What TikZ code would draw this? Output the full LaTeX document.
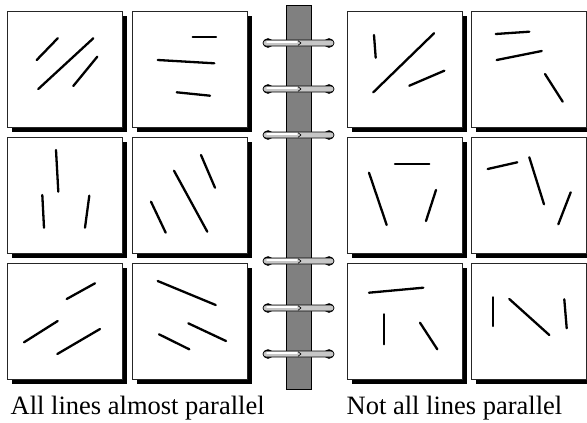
\documentclass[tikz,border=0pt]{standalone}
\usepackage{fontspec}
\setmainfont{Liberation Serif}
\begin{document}
\begin{tikzpicture}[x=1pt,y=-1pt,
  panel/.style={draw=black!85,line width=0.9pt,fill=white},
  shadowbox/.style={fill=black},
  stroke/.style={line width=2.3pt,line cap=round},
  spine/.style={draw=black,line width=0.9pt,fill=black!50},
  rod/.style={draw=black,line width=0.7pt,fill=black!22,rounded corners=3pt},
  knob/.style={fill=black},
  highlight/.style={draw=white,line width=1.5pt,line cap=round},
  notch/.style={draw=black,line width=0.6pt},
  lbl/.style={font=\fontsize{26.5}{30}\selectfont,inner sep=0pt,anchor=base west}]
\useasboundingbox (0,0) rectangle (587,423);
% panels
\foreach \x in {7,132,347,471}
  \foreach \y in {11,137,263}{
    \fill[shadowbox] (\x+5,\y+5) rectangle (\x+120,\y+121);
    \draw[panel] (\x,\y) rectangle (\x+115,\y+116);
  }
% spine
\draw[spine] (286,5) rectangle (311,389);
% rings
\foreach \y in {43,89,135,261,308,354}{
  \fill[knob] (268,\y) ellipse (5 and 4.8);
  \fill[knob] (329,\y) ellipse (5 and 4.8);
  \draw[rod] (263,\y-3) rectangle (334,\y+3);
  \draw[highlight] (267,\y-0.8) -- (297,\y-0.8);
  \draw[notch] (298,\y-2.3) -- (301,\y) -- (298,\y+2.3);
}
% row 1
\draw[stroke] (36.7,60) -- (57.7,38.3);
\draw[stroke] (38.3,89) -- (93.3,38.3);
\draw[stroke] (73.3,86) -- (97.3,56.7);
\draw[stroke] (192.7,36.7) -- (216,36.7);
\draw[stroke] (157.7,60) -- (214.3,63.3);
\draw[stroke] (176.7,92.3) -- (210,95.7);
\draw[stroke] (374,35) -- (375.7,57.7);
\draw[stroke] (373.3,92.3) -- (434,33.3);
\draw[stroke] (409.3,85.7) -- (444.3,70.7);
\draw[stroke] (495.7,34) -- (529.3,31.7);
\draw[stroke] (496.7,60) -- (541.7,51);
\draw[stroke] (545,74) -- (562.7,101.7);
% row 2
\draw[stroke] (56,150) -- (58.3,191.7);
\draw[stroke] (42.3,195) -- (44,227.7);
\draw[stroke] (89.3,195.7) -- (85,227.7);
\draw[stroke] (201,155) -- (215,187.7);
\draw[stroke] (174,170.7) -- (207.3,231.7);
\draw[stroke] (151,201.7) -- (165.7,232.7);
\draw[stroke] (395,164.3) -- (429.3,164.3);
\draw[stroke] (369,172.7) -- (386.7,225);
\draw[stroke] (436,190) -- (426,221);
\draw[stroke] (487.7,169) -- (517.3,162.3);
\draw[stroke] (529.3,157.3) -- (544,204.3);
\draw[stroke] (570.7,192.3) -- (558.3,224.3);
% row 3
\draw[stroke] (66.7,299) -- (95,283.3);
\draw[stroke] (24,342.3) -- (57.7,321);
\draw[stroke] (57.3,354) -- (100,329);
\draw[stroke] (157.7,281) -- (215.7,305);
\draw[stroke] (188.3,323.3) -- (226,341);
\draw[stroke] (159,334.3) -- (189.3,349.3);
\draw[stroke] (369,292.7) -- (423.3,287.7);
\draw[stroke] (384,314.3) -- (384,344.3);
\draw[stroke] (420,322.7) -- (437.3,349.3);
\draw[stroke] (493.3,297.3) -- (493.3,326);
\draw[stroke] (509.3,299) -- (549.3,335);
\draw[stroke] (564.3,299.3) -- (566.7,328.3);
% labels
\node[lbl] (lab1) at (10.5,414) {All lines almost parallel};
\node[lbl] (lab2) at (346.5,414) {Not all lines parallel};
\end{tikzpicture}
\end{document}
